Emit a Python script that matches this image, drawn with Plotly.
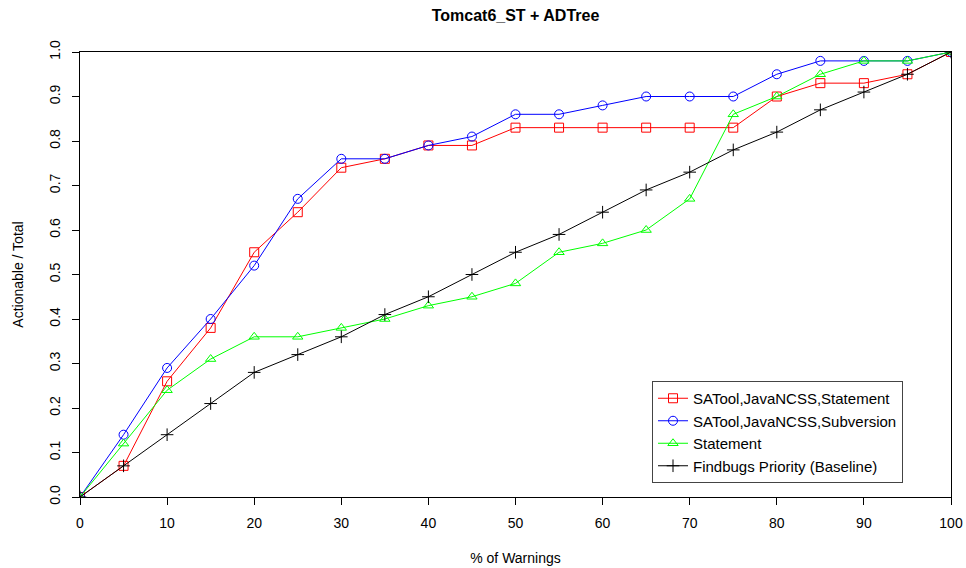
import plotly.graph_objects as go

x_pct = [0, 5, 10, 15, 20, 25, 30, 35, 40, 45, 50, 55, 60, 65, 70, 75, 80, 85, 90, 95, 100]
red_vals = [0, 0.07, 0.26, 0.38, 0.55, 0.64, 0.74, 0.76, 0.79, 0.79, 0.83, 0.83, 0.83, 0.83, 0.83, 0.83, 0.90, 0.93, 0.93, 0.95, 1.0]
blue_vals = [0, 0.14, 0.29, 0.40, 0.52, 0.67, 0.76, 0.76, 0.79, 0.81, 0.86, 0.86, 0.88, 0.90, 0.90, 0.90, 0.95, 0.98, 0.98, 0.98, 1.0]
green_vals = [0, 0.12, 0.24, 0.31, 0.36, 0.36, 0.38, 0.40, 0.43, 0.45, 0.48, 0.55, 0.57, 0.60, 0.67, 0.86, 0.90, 0.95, 0.98, 0.98, 1.0]
black_vals = [0, 0.07, 0.14, 0.21, 0.28, 0.32, 0.36, 0.41, 0.45, 0.50, 0.55, 0.59, 0.64, 0.69, 0.73, 0.78, 0.82, 0.87, 0.91, 0.95, 1.0]

series_names = ["SATool,JavaNCSS,Statement", "SATool,JavaNCSS,Subversion", "Statement", "Findbugs Priority (Baseline)"]
x_ticks = [0, 10, 20, 30, 40, 50, 60, 70, 80, 90, 100]
y_ticks = [0.0, 0.1, 0.2, 0.3, 0.4, 0.5, 0.6, 0.7, 0.8, 0.9, 1.0]
y_tick_text = ["0.0", "0.1", "0.2", "0.3", "0.4", "0.5", "0.6", "0.7", "0.8", "0.9", "1.0"]

styles = [
    ("#ff0000", "square-open"),
    ("#0000ff", "circle-open"),
    ("#00ff00", "triangle-up-open"),
    ("#000000", "cross-thin-open"),
]

fig = go.Figure()
for name, vals, (col, sym) in zip(series_names, [red_vals, blue_vals, green_vals, black_vals], styles):
    fig.add_trace(go.Scatter(
        x=x_pct, y=vals, name=name, mode="lines+markers",
        line=dict(color=col, width=1),
        marker=dict(symbol=sym, size=9, color=col, line=dict(color=col, width=1)),
    ))

font_fam = "Liberation Sans, Arial, sans-serif"
fig.update_layout(
    width=966, height=568,
    margin=dict(l=80, r=15, t=52, b=71, autoexpand=False),
    paper_bgcolor="white", plot_bgcolor="white",
    title=dict(text="<b>Tomcat6_ST + ADTree</b>", x=(80 + 951) / 2 / 966, xanchor="center",
               y=1 - 15 / 568, yanchor="middle", font=dict(family=font_fam, size=16, color="black")),
    font=dict(family=font_fam, size=14, color="black"),
    showlegend=True,
    legend=dict(x=(652 - 80) / 871, y=(497 - 432) / 445, xanchor="left", yanchor="middle",
                bordercolor="#444444", borderwidth=1, bgcolor="white",
                font=dict(family=font_fam, size=15, color="black"),
                itemwidth=30, tracegroupgap=0),
)
fig.update_xaxes(
    range=[0, 100], tickvals=x_ticks, ticks="outside", ticklen=7, tickcolor="black",
    showgrid=False, zeroline=False, showline=True, linecolor="black", linewidth=1, mirror=True,
    automargin=False, ticklabelstandoff=6,
    title=dict(text="% of Warnings", standoff=23, font=dict(size=14)),
    tickfont=dict(size=14),
)
fig.update_yaxes(
    range=[0, 1], tickvals=y_ticks, ticktext=y_tick_text, ticks="outside", ticklen=7, tickcolor="black",
    tickangle=-90, automargin=False, ticklabelstandoff=6,
    showgrid=False, zeroline=False, showline=True, linecolor="black", linewidth=1, mirror=True,
    title=dict(text="Actionable / Total", standoff=20, font=dict(size=14)),
    tickfont=dict(size=14),
)

fig.write_html("out.html")
